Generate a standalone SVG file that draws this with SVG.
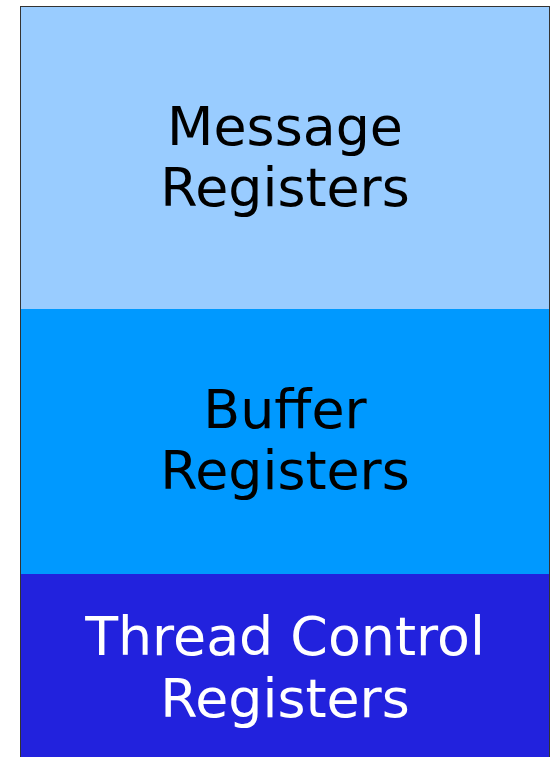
<svg xmlns="http://www.w3.org/2000/svg" width="553" height="757" viewBox="0 0 553 757">
<style>
.t{font-family:"DejaVu Sans",sans-serif;font-size:53.8px;text-anchor:middle}
.dark{fill:#000}
.light{fill:#fff}
</style>
<rect x="0" y="0" width="553" height="757" fill="#fff"/>
<g id="message-registers">
<rect x="20.5" y="6.5" width="529" height="303" fill="#99ccff"/>
<text class="t dark" x="285" y="145">Message</text>
<text class="t dark" x="285" y="206">Registers</text>
</g>
<g id="buffer-registers">
<rect x="20.5" y="309" width="529" height="265" fill="#0099ff"/>
<text class="t dark" x="285" y="428">Buffer</text>
<text class="t dark" x="285" y="489">Registers</text>
</g>
<g id="thread-control-registers">
<rect x="20.5" y="574" width="529" height="190" fill="#2222dd"/>
<text class="t light" x="285" y="655">Thread Control</text>
<text class="t light" x="285" y="717">Registers</text>
</g>
<rect x="20.5" y="6.5" width="529" height="760" fill="none" stroke="#333" stroke-width="1"/>
</svg>
